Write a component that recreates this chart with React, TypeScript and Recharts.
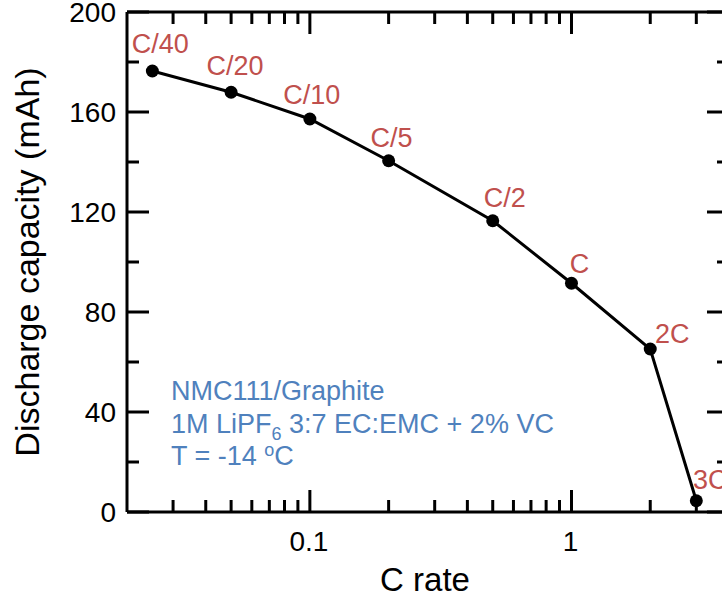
import { LineChart, Line, XAxis, YAxis, LabelList, Label, Customized } from 'recharts'

// C rates (fraction of C) and their labels
const rateLabels = ['C/40', 'C/20', 'C/10', 'C/5', 'C/2', 'C', '2C', '3C']
const cRates = [0.025, 0.05, 0.1, 0.2, 0.5, 1, 2, 3]
const capacity = [176.4, 167.9, 157.2, 140.5, 116.5, 91.5, 65.2, 4.5]

const xMajorTicks = [0.1, 1]
const xMinorTicks = [0.03, 0.04, 0.05, 0.06, 0.07, 0.08, 0.09, 0.2, 0.3, 0.4, 0.5, 0.6, 0.7, 0.8, 0.9, 2, 3]
const yMajorTicks = [0, 40, 80, 120, 160, 200]
const yMinorTicks = [20, 60, 100, 140, 180]

const note = ['NMC111/Graphite', '1M LiPF', '6', ' 3:7 EC:EMC + 2% VC', 'T = -14 ', 'o', 'C']

const data = cRates.map((rate, i) => ({ rate, capacity: capacity[i], label: rateLabels[i] }))
const xTicks = [...xMinorTicks, ...xMajorTicks].sort((a, b) => a - b)
const yTicks = [...yMinorTicks, ...yMajorTicks].sort((a, b) => a - b)

const FONT = '"Liberation Sans", Arial, sans-serif'
const RED = '#c0504d'
const BLUE = '#4f81bd'
const MAJOR = 22
const MINOR = 12

// where each point label sits, relative to its point
const labelOffset = [
  [8, -18], [4, -17], [2, -15], [3, -14], [12, -14], [8, -10], [22, -6], [14, -12],
]

const tickFor = (side: 'left' | 'right' | 'bottom' | 'top') => (p: any) => {
  const v = p.payload.value
  const isMajor = side === 'left' || side === 'right' ? yMajorTicks.includes(v) : xMajorTicks.includes(v)
  const len = isMajor ? MAJOR : MINOR
  const { x, y } = p
  if (side === 'left') {
    return (
      <g>
        <line x1={x} x2={x + len} y1={y} y2={y} stroke="#000" strokeWidth={3} />
        {isMajor && (
          <text x={x - 11} y={y} dy="0.36em" textAnchor="end" fontSize={28} fontFamily={FONT} fill="#000">{v}</text>
        )}
      </g>
    )
  }
  if (side === 'right') {
    return <line x1={x - len} x2={x} y1={y} y2={y} stroke="#000" strokeWidth={3} />
  }
  if (side === 'top') {
    return <line x1={x} x2={x} y1={y} y2={y + len} stroke="#000" strokeWidth={3} />
  }
  return (
    <g>
      <line x1={x} x2={x} y1={y - len} y2={y} stroke="#000" strokeWidth={3} />
      {isMajor && (
        <text x={x - 1} y={y + 39} textAnchor="middle" fontSize={28} fontFamily={FONT} fill="#000">{String(v)}</text>
      )}
    </g>
  )
}

const PointLabel = (p: any) => {
  const i = rateLabels.indexOf(p.value)
  const [dx, dy] = labelOffset[i] || [0, -12]
  return (
    <text x={p.x + dx} y={p.y + dy} textAnchor="middle" fontSize={27} fontFamily={FONT} fill={RED}>
      {p.value}
    </text>
  )
}

const Note = () => (
  <g fontFamily={FONT} fontSize={27} fill={BLUE}>
    <text x={171} y={400}>{note[0]}</text>
    <text x={171} y={433}>
      {note[1]}
      <tspan fontSize={18} dy={7}>{note[2]}</tspan>
      <tspan dy={-7}>{note[3]}</tspan>
    </text>
    <text x={171} y={465}>
      {note[4]}
      <tspan fontSize={18} dy={-9}>{note[5]}</tspan>
      <tspan dy={9}>{note[6]}</tspan>
    </text>
  </g>
)

export default function App() {
  return (
    <div style={{ position: 'fixed', left: 0, top: 0, width: 722, height: 598, overflow: 'hidden', background: '#fff' }}>
      <LineChart width={760} height={598} data={data} margin={{ top: 10, right: 11, left: 67, bottom: 46 }}>
        <XAxis
          xAxisId="bottom"
          dataKey="rate"
          type="number"
          scale="log"
          domain={[0.02, 4]}
          allowDataOverflow
          ticks={xTicks}
          interval={0}
          height={40}
          tickSize={0}
          tickMargin={0}
          tickLine={false}
          axisLine={{ stroke: '#000', strokeWidth: 3 }}
          tick={tickFor('bottom')}
        >
          <Label
            content={(p: any) => (
              <text x={p.viewBox.x + p.viewBox.width / 2 - 3} y={p.viewBox.y + 79} textAnchor="middle" fontSize={33} fontFamily={FONT} fill="#000">
                C rate
              </text>
            )}
          />
        </XAxis>
        <XAxis
          xAxisId="top"
          orientation="top"
          dataKey="rate"
          type="number"
          scale="log"
          domain={[0.02, 4]}
          allowDataOverflow
          ticks={xTicks}
          interval={0}
          height={2}
          tickSize={0}
          tickMargin={0}
          tickLine={false}
          axisLine={{ stroke: '#000', strokeWidth: 3 }}
          tick={tickFor('top')}
        />
        <YAxis
          yAxisId="left"
          type="number"
          domain={[0, 200]}
          allowDataOverflow
          ticks={yTicks}
          interval={0}
          width={60}
          tickSize={0}
          tickMargin={0}
          tickLine={false}
          axisLine={{ stroke: '#000', strokeWidth: 3 }}
          tick={tickFor('left')}
        >
          <Label
            content={(p: any) => (
              <text
                transform={`translate(39, ${p.viewBox.y + p.viewBox.height / 2}) rotate(-90)`}
                textAnchor="middle"
                fontSize={34}
                fontFamily={FONT}
                fill="#000"
              >
                Discharge capacity (mAh)
              </text>
            )}
          />
        </YAxis>
        <YAxis
          yAxisId="right"
          orientation="right"
          type="number"
          domain={[0, 200]}
          allowDataOverflow
          ticks={yTicks}
          interval={0}
          width={20}
          tickSize={0}
          tickMargin={0}
          tickLine={false}
          axisLine={{ stroke: '#000', strokeWidth: 3 }}
          tick={tickFor('right')}
        />
        <Customized component={Note} />
        <Line
          xAxisId="bottom"
          yAxisId="left"
          dataKey="capacity"
          stroke="#000"
          strokeWidth={3}
          dot={{ r: 6.5, fill: '#000', stroke: 'none' }}
          activeDot={false}
          isAnimationActive={false}
        >
          <LabelList dataKey="label" content={PointLabel} />
        </Line>
      </LineChart>
    </div>
  )
}
